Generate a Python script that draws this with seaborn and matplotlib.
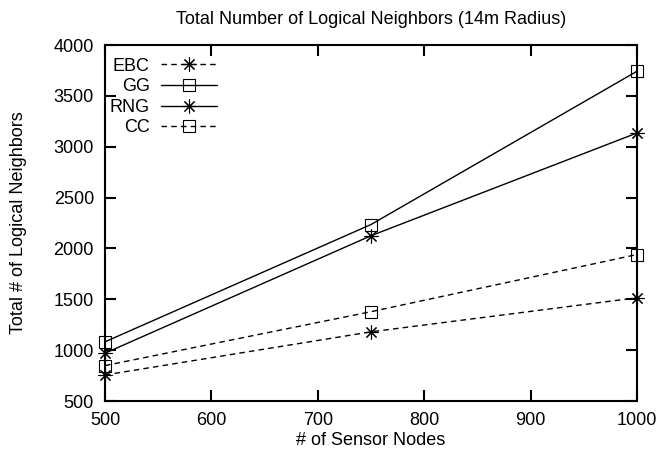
import matplotlib
matplotlib.use("Agg")
import matplotlib.pyplot as plt
import seaborn as sns
import pandas as pd

nodes = [500, 750, 1000]
ebc = [756, 1180, 1515]
gg = [1082, 2235, 3742]
rng = [970, 2125, 3135]
cc = [848, 1378, 1940]

series_names = ["EBC", "GG", "RNG", "CC"]
series_values = [ebc, gg, rng, cc]
x_ticks = [500, 600, 700, 800, 900, 1000]
y_ticks = [500, 1000, 1500, 2000, 2500, 3000, 3500, 4000]

sns.set_style("ticks")
plt.rcParams['font.family'] = ['Liberation Sans', 'DejaVu Sans']
for key in ["text.color", "axes.labelcolor", "xtick.color", "ytick.color",
            "axes.edgecolor"]:
    plt.rcParams[key] = "black"

fig = plt.figure(figsize=(6.61, 4.55), dpi=100)
ax = fig.add_axes([105/661, 54/455, 532/661, 356/455])

asterisk = (8, 2, 0)
styles = {
    "EBC": dict(marker=asterisk, dashes=(4, 3), ms=10),
    "GG": dict(marker="s", dashes=None, ms=8.6),
    "RNG": dict(marker=asterisk, dashes=None, ms=10),
    "CC": dict(marker="s", dashes=(4, 3), ms=8.6),
}

for name, vals in zip(series_names, series_values):
    df = pd.DataFrame({"x": nodes, "y": vals})
    st = styles[name]
    sns.lineplot(data=df, x="x", y="y", ax=ax, color="black", linewidth=1.0,
                 marker=st["marker"], markersize=st["ms"], markerfacecolor="none",
                 markeredgecolor="black", markeredgewidth=0.8, label=name)
    line = ax.get_lines()[-1]
    line.set_clip_on(False)
    if st["dashes"]:
        line.set_dashes(st["dashes"])
    else:
        line.set_linestyle("-")

ax.set_xlim(500, 1000)
ax.set_ylim(500, 4000)
ax.set_xticks(x_ticks)
ax.set_yticks(y_ticks)
ax.tick_params(direction="in", length=8, width=1.5, top=True, right=True,
               labelsize=13, pad=8, colors="black")
for s in ax.spines.values():
    s.set_linewidth(1.5)
    s.set_visible(True)
    s.set_color("black")

ax.set_title("Total Number of Logical Neighbors (14m Radius)", fontsize=13, pad=15,
             color="black")
ax.set_xlabel("# of Sensor Nodes", fontsize=13, labelpad=2, color="black")
ax.set_ylabel("Total # of Logical Neighbors", fontsize=13, labelpad=19, color="black")

leg = ax.legend(loc="upper left", frameon=False, markerfirst=False, fontsize=13,
                handlelength=3.1, handletextpad=0.6, labelspacing=0.2,
                borderaxespad=0.3, bbox_to_anchor=(-0.015, 1.0))
for t in leg.get_texts():
    t.set_color("black")

fig.savefig("out.png", dpi=100)
